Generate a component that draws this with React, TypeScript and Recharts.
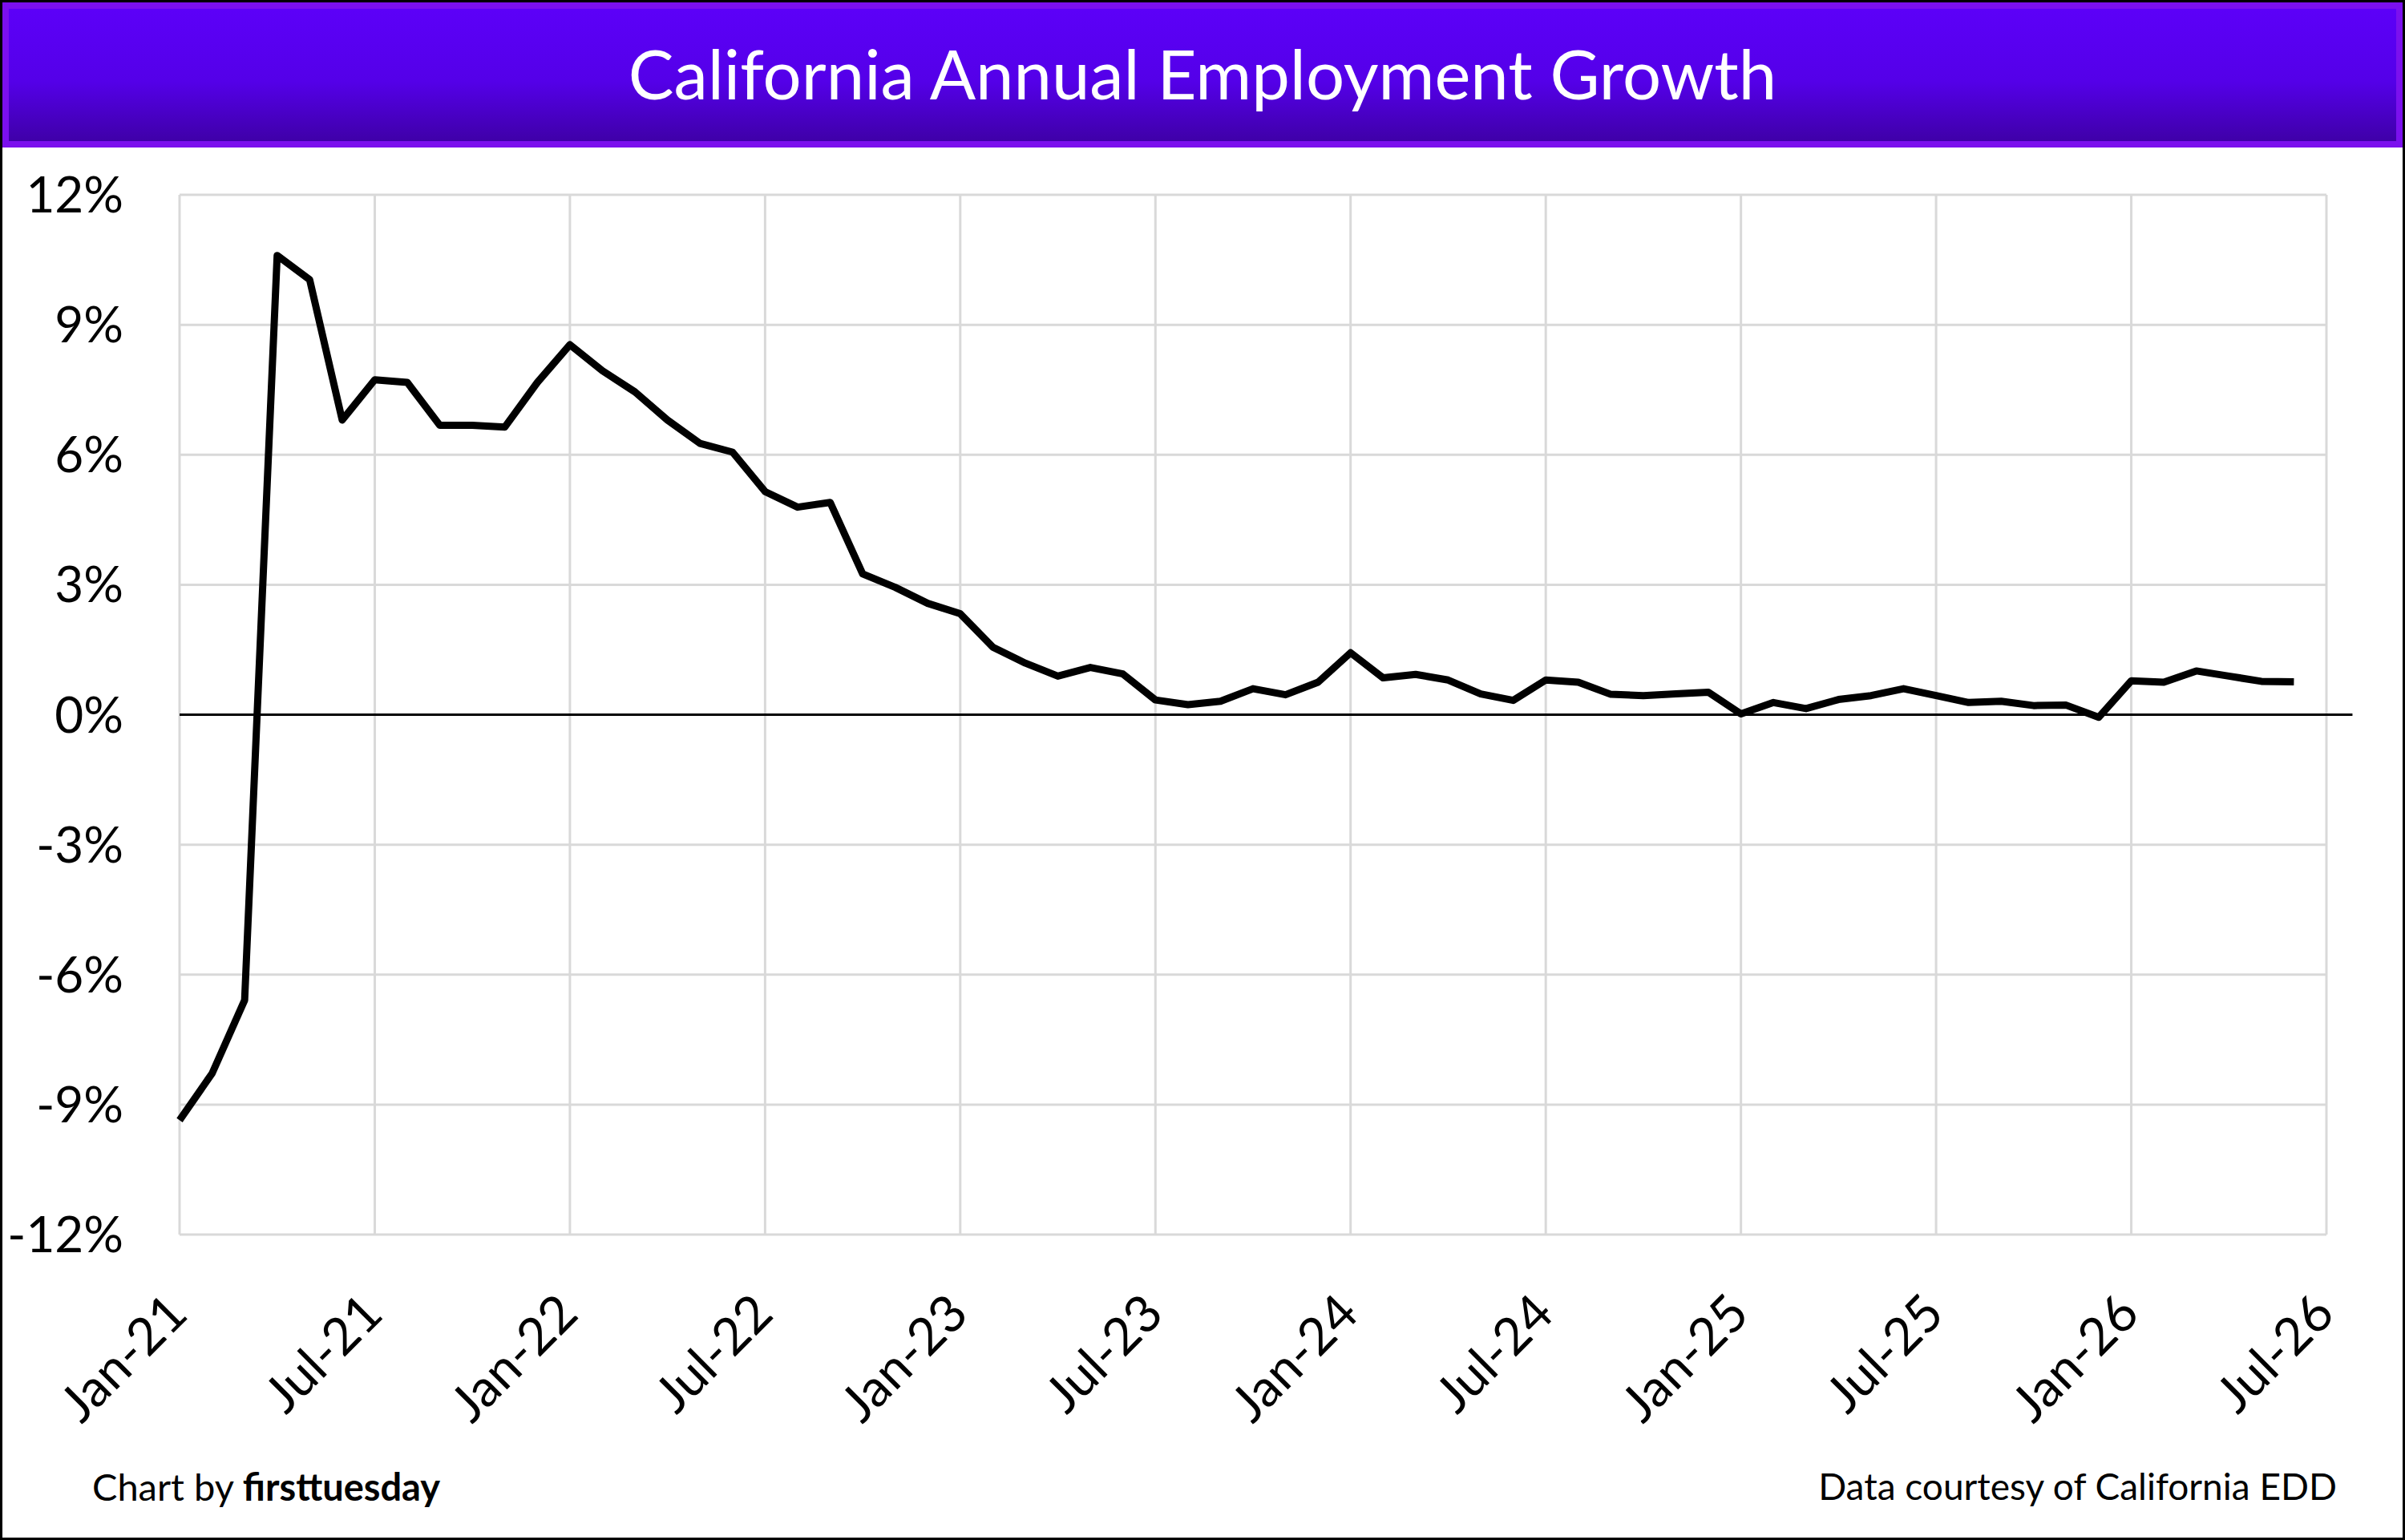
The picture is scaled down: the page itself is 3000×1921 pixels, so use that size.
import { LineChart, Line, XAxis, YAxis, CartesianGrid, ReferenceLine } from 'recharts'

// Monthly annual employment growth, %, Jan-21 through Jun-26
const months = [
  'Jan-21', 'Feb-21', 'Mar-21', 'Apr-21', 'May-21', 'Jun-21', 'Jul-21', 'Aug-21', 'Sep-21', 'Oct-21', 'Nov-21', 'Dec-21',
  'Jan-22', 'Feb-22', 'Mar-22', 'Apr-22', 'May-22', 'Jun-22', 'Jul-22', 'Aug-22', 'Sep-22', 'Oct-22', 'Nov-22', 'Dec-22',
  'Jan-23', 'Feb-23', 'Mar-23', 'Apr-23', 'May-23', 'Jun-23', 'Jul-23', 'Aug-23', 'Sep-23', 'Oct-23', 'Nov-23', 'Dec-23',
  'Jan-24', 'Feb-24', 'Mar-24', 'Apr-24', 'May-24', 'Jun-24', 'Jul-24', 'Aug-24', 'Sep-24', 'Oct-24', 'Nov-24', 'Dec-24',
  'Jan-25', 'Feb-25', 'Mar-25', 'Apr-25', 'May-25', 'Jun-25', 'Jul-25', 'Aug-25', 'Sep-25', 'Oct-25', 'Nov-25', 'Dec-25',
  'Jan-26', 'Feb-26', 'Mar-26', 'Apr-26', 'May-26', 'Jun-26',
]

const growth = [
  -9.36, -8.28, -6.59, 10.6, 10.04, 6.8, 7.73, 7.67, 6.68, 6.68, 6.64, 7.67,
  8.54, 7.94, 7.45, 6.8, 6.26, 6.06, 5.15, 4.79, 4.9, 3.25, 2.94, 2.57,
  2.33, 1.56, 1.19, 0.89, 1.09, 0.94, 0.34, 0.23, 0.31, 0.6, 0.46, 0.75,
  1.43, 0.85, 0.93, 0.8, 0.48, 0.33, 0.8, 0.75, 0.47, 0.44, 0.48, 0.52,
  0.02, 0.28, 0.14, 0.35, 0.44, 0.6, 0.44, 0.28, 0.31, 0.21, 0.22, -0.06,
  0.78, 0.75, 1.01, 0.89, 0.77, 0.76,
]

const xTickLabels = [
  'Jan-21', 'Jul-21', 'Jan-22', 'Jul-22', 'Jan-23', 'Jul-23',
  'Jan-24', 'Jul-24', 'Jan-25', 'Jul-25', 'Jan-26', 'Jul-26',
]

const yTicks = [-12, -9, -6, -3, 0, 3, 6, 9, 12]

const FONT = 'Lato, "Open Sans", sans-serif'

const chartData = months.map((month, i) => ({ idx: i, month, growth: growth[i] }))
const xTicks = xTickLabels.map((_, i) => i * 6)

function MonthTick({ x, y, payload }: any) {
  const label = xTickLabels[Math.round(payload.value / 6)]
  return (
    <g transform={`translate(${x + 13},${y + 102})`}>
      <text textAnchor="end" transform="rotate(-45)" fill="#000" fontSize={64}>
        {label}
      </text>
    </g>
  )
}

export default function App() {
  return (
    <div
      style={{
        position: 'absolute',
        left: 0,
        top: 0,
        width: 3000,
        height: 1921,
        boxSizing: 'border-box',
        border: '3px solid #000',
        background: '#fff',
        fontFamily: FONT,
        overflow: 'hidden',
      }}
    >
      {/* header band */}
      <div
        style={{
          position: 'absolute',
          left: 0,
          top: 0,
          width: 2994,
          height: 181,
          boxSizing: 'border-box',
          border: '8px solid #7b10ee',
          background: 'linear-gradient(#5c00f8, #5400e8 55%, #3f00a8)',
        }}
      />
      <div
        style={{
          position: 'absolute',
          left: 0,
          top: 46,
          width: 2994,
          textAlign: 'center',
          color: '#fff',
          fontSize: 85,
          lineHeight: 1,
        }}
      >
        California Annual Employment Growth
      </div>

      <div style={{ position: 'absolute', left: 0, top: 181 }}>
        <LineChart
          width={2994}
          height={1734}
          data={chartData}
          margin={{ top: 59, right: 95, bottom: 0, left: 0 }}
        >
          <CartesianGrid stroke="#d9d9d9" strokeWidth={3} />
          <XAxis
            type="number"
            dataKey="idx"
            domain={[0, 66]}
            ticks={xTicks}
            interval={0}
            height={378}
            axisLine={false}
            tickLine={false}
            tickSize={0}
            tickMargin={0}
            tick={<MonthTick />}
          />
          <YAxis
            type="number"
            domain={[-12, 12]}
            ticks={yTicks}
            interval={0}
            width={221}
            axisLine={false}
            tickLine={false}
            tickSize={0}
            tickMargin={70}
            tickFormatter={(v: number) => `${v}%`}
            tick={{ fill: '#000', fontSize: 62 }}
          />
          <ReferenceLine
            segment={[{ x: 0, y: 0 }, { x: 66.8, y: 0 }]}
            ifOverflow="visible"
            stroke="#000"
            strokeWidth={3}
          />
          <Line
            type="linear"
            dataKey="growth"
            stroke="#000"
            strokeWidth={9}
            strokeLinejoin="round"
            dot={false}
            activeDot={false}
            isAnimationActive={false}
          />
        </LineChart>
      </div>

      {/* footer */}
      <div
        style={{
          position: 'absolute',
          left: 112,
          top: 1828,
          fontSize: 47,
          lineHeight: 1,
          color: '#000',
        }}
      >
        Chart by <span style={{ fontWeight: 700 }}>firsttuesday</span>
      </div>
      <div
        style={{
          position: 'absolute',
          right: 82,
          top: 1828,
          fontSize: 46,
          lineHeight: 1,
          color: '#000',
        }}
      >
        Data courtesy of California EDD
      </div>
    </div>
  )
}
